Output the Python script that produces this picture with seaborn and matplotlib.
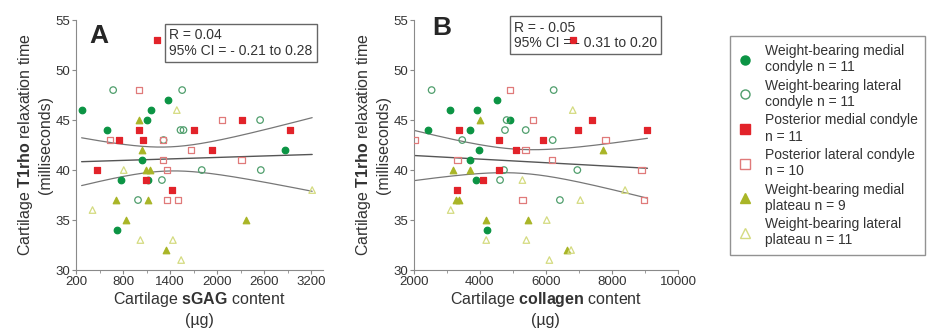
import numpy as np
import pandas as pd
import seaborn as sns
import matplotlib.pyplot as plt
from matplotlib.lines import Line2D

# 그룹 이름 / 범례 라벨
groups = ["wb_med_cond", "wb_lat_cond", "post_med_cond", "post_lat_cond", "wb_med_plat", "wb_lat_plat"]
legend_labels = [
    "Weight-bearing medial\ncondyle n = 11",
    "Weight-bearing lateral\ncondyle n = 11",
    "Posterior medial condyle\nn = 11",
    "Posterior lateral condyle\nn = 10",
    "Weight-bearing medial\nplateau n = 9",
    "Weight-bearing lateral\nplateau n = 11",
]

# 패널 A: sGAG (ug) vs T1rho (ms)
a_wb_med_cond_x = [272, 598, 780, 725, 1046, 1105, 1160, 1372, 1118, 2861]
a_wb_med_cond_y = [46, 44, 39, 34, 41, 45, 46, 47, 39, 42]
a_wb_lat_cond_x = [674, 1554, 1296, 1317, 1533, 1571, 991, 1804, 2548, 2557]
a_wb_lat_cond_y = [48, 48, 39, 43, 44, 44, 37, 40, 45, 40]
a_post_med_x = [462, 746, 1004, 1055, 1097, 1423, 1710, 1935, 2316, 2929, 1228]
a_post_med_y = [40, 43, 44, 43, 39, 38, 44, 42, 45, 44, 53]
a_post_lat_x = [632, 1004, 1309, 1309, 1363, 1363, 1499, 1668, 2062, 2312]
a_post_lat_y = [43, 48, 43, 41, 40, 37, 37, 42, 45, 41]
a_wb_med_plat_x = [1004, 1046, 716, 843, 1097, 1148, 1118, 1351, 2366]
a_wb_med_plat_y = [45, 42, 37, 35, 40, 40, 37, 32, 35]
a_wb_lat_plat_x = [411, 809, 1021, 1436, 1541, 1486, 3212]
a_wb_lat_plat_y = [36, 40, 33, 33, 31, 46, 38]

# 패널 B: collagen (ug) vs T1rho (ms)
b_wb_med_cond_x = [2419, 3096, 3694, 3913, 3694, 3963, 3893, 4531, 4910, 4212]
b_wb_med_cond_y = [44, 46, 44, 46, 41, 42, 39, 47, 45, 34]
b_wb_lat_cond_x = [2538, 3465, 4760, 4810, 4730, 4611, 5388, 6235, 6205, 6952, 6424]
b_wb_lat_cond_y = [48, 43, 44, 45, 40, 39, 44, 48, 43, 40, 37]
b_post_med_x = [3365, 3296, 4581, 4571, 4093, 5100, 5906, 6982, 7381, 9075, 6833]
b_post_med_y = [44, 38, 43, 40, 39, 42, 43, 44, 45, 44, 53]
b_post_lat_x = [2020, 3315, 4910, 5607, 5388, 5288, 6185, 7800, 8896, 8966]
b_post_lat_y = [43, 41, 48, 45, 42, 37, 41, 43, 40, 37]
b_wb_med_plat_x = [3993, 3186, 3714, 3286, 3365, 4172, 5468, 6624, 7720]
b_wb_med_plat_y = [45, 40, 40, 37, 37, 35, 35, 32, 42]
b_wb_lat_plat_x = [3116, 4192, 5288, 5408, 6026, 6105, 6763, 7042, 6813, 8398]
b_wb_lat_plat_y = [36, 33, 39, 33, 35, 31, 32, 37, 46, 38]

# 마커 스타일
styles = {
    "wb_med_cond": dict(marker="o", fc="#0b9444", ec="#0b9444"),
    "wb_lat_cond": dict(marker="o", fc="none", ec="#4f9e6c"),
    "post_med_cond": dict(marker="s", fc="#e2232a", ec="#e2232a"),
    "post_lat_cond": dict(marker="s", fc="none", ec="#e07a7a"),
    "wb_med_plat": dict(marker="^", fc="#a9b527", ec="#a9b527"),
    "wb_lat_plat": dict(marker="^", fc="none", ec="#d4db80"),
}


def make_df(xs, ys):
    rows = []
    for g, x, y in zip(groups, xs, ys):
        for xi, yi in zip(x, y):
            rows.append((g, xi, yi))
    return pd.DataFrame(rows, columns=["group", "x", "y"])


df_a = make_df(
    [a_wb_med_cond_x, a_wb_lat_cond_x, a_post_med_x, a_post_lat_x, a_wb_med_plat_x, a_wb_lat_plat_x],
    [a_wb_med_cond_y, a_wb_lat_cond_y, a_post_med_y, a_post_lat_y, a_wb_med_plat_y, a_wb_lat_plat_y],
)
df_b = make_df(
    [b_wb_med_cond_x, b_wb_lat_cond_x, b_post_med_x, b_post_lat_x, b_wb_med_plat_x, b_wb_lat_plat_x],
    [b_wb_med_cond_y, b_wb_lat_cond_y, b_post_med_y, b_post_lat_y, b_wb_med_plat_y, b_wb_lat_plat_y],
)

sns.set_style("ticks")
plt.rcParams["font.family"] = ["Liberation Sans", "DejaVu Sans"]
plt.rcParams["mathtext.fontset"] = "custom"
plt.rcParams["mathtext.rm"] = "Liberation Sans"
plt.rcParams["mathtext.bf"] = "Liberation Sans:bold"

fig = plt.figure(figsize=(9.3, 3.35), dpi=100)
ax_a = fig.add_axes([0.0817, 0.194, 0.2656, 0.746])
ax_b = fig.add_axes([0.445, 0.194, 0.284, 0.746])

grey = "#8a8a8a"
txt = "#333333"


def draw_panel(ax, df):
    for g in groups:
        st = styles[g]
        sub = df[df.group == g]
        sns.scatterplot(x=sub.x, y=sub.y, ax=ax, marker=st["marker"], s=22,
                        facecolor=st["fc"], edgecolor=st["ec"], linewidth=0.9,
                        legend=False, zorder=3)
    # 선형회귀 + 95% 신뢰구간 (전체 데이터)
    x = df.x.to_numpy(float)
    y = df.y.to_numpy(float)
    n = len(x)
    b1, b0 = np.polyfit(x, y, 1)
    s = np.sqrt(np.sum((y - (b0 + b1 * x)) ** 2) / (n - 2))
    xs = np.linspace(x.min(), x.max(), 200)
    se = s * np.sqrt(1 / n + (xs - x.mean()) ** 2 / np.sum((x - x.mean()) ** 2))
    yh = b0 + b1 * xs
    ax.plot(xs, yh, color="#555555", lw=1.0, zorder=2)
    ax.plot(xs, yh + 2.0 * se, color="#777777", lw=0.9, zorder=2)
    ax.plot(xs, yh - 2.0 * se, color="#777777", lw=0.9, zorder=2)
    ax.set_ylim(30, 55)
    ax.set_yticks(range(30, 56, 5))
    for side in ["top", "right"]:
        ax.spines[side].set_visible(False)
    for side in ["left", "bottom"]:
        ax.spines[side].set_color(grey)
    ax.tick_params(which="both", colors=grey, labelcolor=txt, labelsize=9.5, length=3, pad=1)
    ax.tick_params(which="minor", length=2)
    ax.set_ylabel("Cartilage $\\bf{T1rho}$ relaxation time\n(milliseconds)", fontsize=11.5,
                  color=txt, labelpad=2, linespacing=1.25)


draw_panel(ax_a, df_a)
ax_a.set_xlim(200, 3350)
ax_a.set_xticks(range(200, 3201, 600))
ax_a.set_xticks(range(500, 3350, 600), minor=True)
ax_a.set_xlabel("Cartilage $\\bf{sGAG}$ content\n(\u00b5g)", fontsize=11.5, color=txt, labelpad=2, linespacing=1.3)
ax_a.text(0.053, 0.985, "A", transform=ax_a.transAxes, fontsize=19, fontweight="bold", va="top", ha="left")
ax_a.text(0.378, 0.968, "R = 0.04\n95% CI = - 0.21 to 0.28", transform=ax_a.transAxes, fontsize=10,
          va="top", ha="left", color=txt, linespacing=1.15,
          bbox=dict(boxstyle="square,pad=0.3", fc="none", ec="#666666", lw=1))

draw_panel(ax_b, df_b)
ax_b.set_xlim(2000, 10000)
ax_b.set_xticks(range(2000, 10001, 2000))
ax_b.set_xticks(range(3000, 10000, 2000), minor=True)
ax_b.set_xlabel("Cartilage $\\bf{collagen}$ content\n(\u00b5g)", fontsize=11.5, color=txt, labelpad=2, linespacing=1.3)
ax_b.text(0.068, 1.015, "B", transform=ax_b.transAxes, fontsize=19, fontweight="bold", va="top", ha="left")
ax_b.text(0.378, 0.998, "R = - 0.05\n95% CI = - 0.31 to 0.20", transform=ax_b.transAxes, fontsize=10,
          va="top", ha="left", color=txt, linespacing=1.15,
          bbox=dict(boxstyle="square,pad=0.3", fc="none", ec="#666666", lw=1))

handles = [Line2D([], [], ls="none", marker=styles[g]["marker"], markersize=6.5,
                  markerfacecolor=styles[g]["fc"], markeredgecolor=styles[g]["ec"], markeredgewidth=1)
           for g in groups]
leg = fig.legend(handles, legend_labels, loc="upper left", bbox_to_anchor=(0.778, 0.912),
                 frameon=True, fancybox=False, edgecolor="#777777", fontsize=10,
                 handlelength=1.0, handletextpad=0.9, labelspacing=0.32, borderpad=0.55)
leg.get_frame().set_linewidth(1)
for t in leg.get_texts():
    t.set_color(txt)

fig.savefig("out.png", dpi=100)
